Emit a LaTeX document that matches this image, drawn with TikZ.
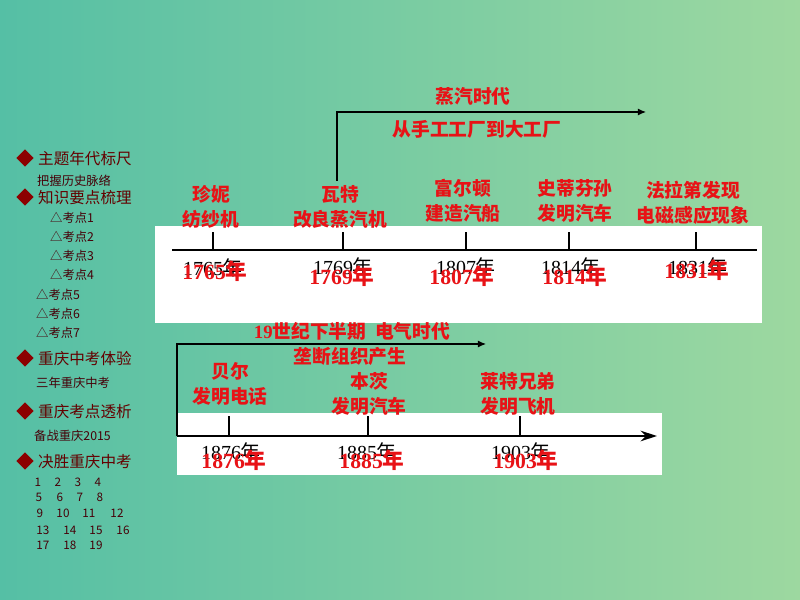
\documentclass[tikz,border=0pt]{standalone}
\usepackage{fontspec}
\usepackage{tikz}
\usepackage{xcolor}
\usetikzlibrary{arrows.meta,shapes.geometric}
\setmainfont{Liberation Serif}
\newfontfamily\cjk{Noto Sans CJK SC}
\definecolor{bgl}{RGB}{85,191,165}
\definecolor{bgr}{RGB}{157,216,160}
\definecolor{lred}{RGB}{232,18,22}
\definecolor{mred}{RGB}{100,0,0}
\definecolor{sred}{RGB}{70,0,8}
\definecolor{dred}{RGB}{140,0,0}
\newcommand\yrb[1]{#1{\cjk 年}}
\newcommand\yrr[1]{#1{\cjk\bfseries 年}}

\begin{document}
\begin{tikzpicture}[x=0.03cm,y=-0.03cm]%
  \tikzstyle{lab}=[text=lred,font=\cjk\bfseries\fontsize{16}{21}\selectfont,align=center,inner sep=0]
  \tikzstyle{yb}=[font=\fontsize{17}{20}\selectfont,inner sep=0]
  \tikzstyle{yr}=[text=lred,font=\bfseries\fontsize{18.5}{20}\selectfont,inner sep=0]
  \tikzstyle{menu}=[text=mred,font=\cjk\fontsize{13.3}{15}\selectfont,anchor=west,inner sep=0]
  \tikzstyle{sub}=[text=sred,font=\cjk\fontsize{10.5}{12}\selectfont,anchor=west,inner sep=0]
  \tikzstyle{num}=[text=sred,font=\cjk\fontsize{10}{11}\selectfont,inner sep=0]
  \tikzstyle{dia}=[diamond,fill=dred,inner sep=0,minimum width=15pt,minimum height=15pt]
  \tikzstyle{axis}=[black,line width=1.8pt]
  \tikzstyle{tick}=[black,line width=1.2pt]
  \tikzstyle{era}=[black,line width=0.9pt,-{Latex[length=7pt,width=6pt]}]
  % background
  \shade[left color=bgl,right color=bgr] (0,0) rectangle (800,600);
  \useasboundingbox (0,0) rectangle (800,600);
  \fill[white] (155,226) rectangle (762,323);
  \fill[white] (177,413) rectangle (662,475);
  % menu
  \node(d1)[dia] at (25,158) {}; \node(m1)[menu] at (38,159) {主题年代标尺};
  \node(s1)[sub] at (37,181) {把握历史脉络};
  \node(d2)[dia] at (25,197) {}; \node(m2)[menu] at (38,198) {知识要点梳理};
  \node(k1)[sub] at (50,218) {△考点1};
  \node(k2)[sub] at (50,237) {△考点2};
  \node(k3)[sub] at (50,256) {△考点3};
  \node(k4)[sub] at (50,275) {△考点4};
  \node(k5)[sub] at (36,295) {△考点5};
  \node(k6)[sub] at (36,314) {△考点6};
  \node(k7)[sub] at (36,333) {△考点7};
  \node(d3)[dia] at (25,358) {}; \node(m3)[menu] at (38,359) {重庆中考体验};
  \node(s3)[sub] at (36,383) {三年重庆中考};
  \node(d4)[dia] at (25,411) {}; \node(m4)[menu] at (38,412) {重庆考点透析};
  \node(s4)[sub] at (34,436) {备战重庆2015};
  \node(d5)[dia] at (25,461) {}; \node(m5)[menu] at (38,462) {决胜重庆中考};
  \foreach \n/\x/\y in {1/38/482,2/58/482,3/78/482,4/98/482,
                        5/39/497,6/60/497,7/80/497,8/100/497,
                        9/40/513,10/63/513,11/89/513,12/117/513,
                        13/43/530,14/70/530,15/96/530,16/123/530,
                        17/43/545,18/70/545,19/96/545}
    \node(n\n)[num] at (\x,\y) {\n};
  % steam age
  \coordinate(e0) at (337,181);
  \coordinate(e1) at (337,112);
  \coordinate(e2) at (646,112);
  \draw[era] (e0) -- (e1) -- (e2);
  \node(steam)[lab] at (473,96) {蒸汽时代};
  \node(fact)[lab] at (477,129) {从手工工厂到大工厂};
  % first timeline
  \coordinate(a0) at (172,250);
  \coordinate(a1) at (757,250);
  \draw[axis] (a0) -- (a1);
  \foreach \n/\x in {1/213,2/343,3/466,4/569,5/696}{
    \coordinate(t\n) at (\x,250); \coordinate(u\n) at (\x,232);
    \draw[tick] (t\n) -- (u\n);}
  \node(jn)[lab] at (211,207) {珍妮\\纺纱机};
  \node(wt)[lab] at (340,207) {瓦特\\改良蒸汽机};
  \node(fe)[lab] at (463,201) {富尔顿\\建造汽船};
  \node(sd)[lab] at (575,201) {史蒂芬孙\\发明汽车};
  \node(fl)[lab] at (693,203) {法拉第发现\\电磁感应现象};
  \node(b1)[yb] at (213,268) {\yrb{1765}};
  \node(b2)[yb] at (343,267) {\yrb{1769}};
  \node(b3)[yb] at (466,267) {\yrb{1807}};
  \node(b4)[yb] at (571,267) {\yrb{1814}};
  \node(b5)[yb] at (698,267) {\yrb{1831}};
  \node(r1)[yr] at (215,271) {\yrr{1765}};
  \node(r2)[yr] at (342,276) {\yrr{1769}};
  \node(r3)[yr] at (462,276) {\yrr{1807}};
  \node(r4)[yr] at (575,276) {\yrr{1814}};
  \node(r5)[yr] at (697,270) {\yrr{1831}};
  % electric age
  \coordinate(c0) at (177,436);
  \coordinate(c1) at (177,344);
  \coordinate(c2) at (486,344);
  \draw[era] (c0) -- (c1) -- (c2);
  \node(elec)[lab] at (352,331) {{\rmfamily 19}世纪下半期\ \ 电气时代};
  \node(mono)[lab] at (350,356) {垄断组织产生};
  % second timeline
  \coordinate(g0) at (177,436);
  \coordinate(g1) at (657,436);
  \draw[axis,-{Stealth[length=14pt,width=9pt]}] (g0) -- (g1);
  \foreach \n/\x in {1/229,2/368,3/520}{
    \coordinate(v\n) at (\x,436); \coordinate(w\n) at (\x,416);
    \draw[tick] (v\n) -- (w\n);}
  \node(be)[lab] at (230,384) {贝尔\\发明电话};
  \node(bc)[lab] at (369,394) {本茨\\发明汽车};
  \node(lt)[lab] at (518,394) {莱特兄弟\\发明飞机};
  \node(p1)[yb] at (231,452) {\yrb{1876}};
  \node(p2)[yb] at (367,452) {\yrb{1885}};
  \node(p3)[yb] at (521,452) {\yrb{1903}};
  \node(q1)[yr] at (234,460) {\yrr{1876}};
  \node(q2)[yr] at (372,460) {\yrr{1885}};
  \node(q3)[yr] at (526,460) {\yrr{1903}};
\end{tikzpicture}
\end{document}
